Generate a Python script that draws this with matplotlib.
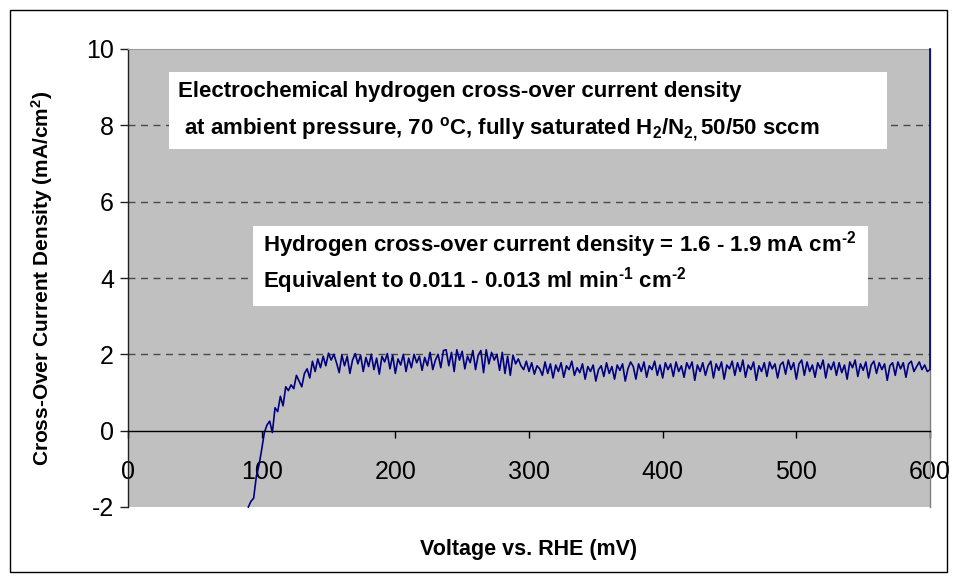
import numpy as np
import matplotlib
matplotlib.use("Agg")
import matplotlib.pyplot as plt
from matplotlib.patches import Rectangle

plt.rcParams['font.family'] = ['Liberation Sans', 'DejaVu Sans']
plt.rcParams['mathtext.fontset'] = 'custom'
plt.rcParams['mathtext.rm'] = 'Liberation Sans:bold'
plt.rcParams['mathtext.bf'] = 'Liberation Sans:bold'
plt.rcParams['mathtext.it'] = 'Liberation Sans:bold'
plt.rcParams['mathtext.default'] = 'bf'

# ---------------- data ----------------
sweep_start_mv = 90
sweep_step_mv = 2
current_density = [
    # 90 - 150 mV
    -2.0, -1.85, -1.77, -1.2, -0.9, -0.5, -0.05, 0.15, 0.25, -0.05,
    0.6, 0.5, 0.9, 0.65, 1.15, 1.05, 1.2, 1.1, 1.45, 1.3,
    1.15, 1.5, 1.62, 1.38, 1.82, 1.55, 1.88, 1.65, 1.95, 1.7,
    2.03,
    # 152 - 280 mV
    1.85, 2.0, 1.78, 1.52, 1.98, 1.7, 1.95, 1.5, 1.85, 2.02,
    1.75, 1.98, 1.55, 1.92, 1.68, 2.0, 1.6, 1.9, 1.48, 1.95,
    1.8, 2.02, 1.62, 1.98, 1.5, 1.88, 1.72, 2.0, 1.55, 1.9,
    1.65, 2.0, 1.78, 1.95, 1.58, 1.92, 1.7, 2.05, 1.6, 1.85,
    2.0, 1.65, 2.1, 2.12, 1.7, 2.05, 1.55, 2.12, 1.85, 2.08,
    1.62, 1.95, 1.78, 2.1, 1.6, 1.98, 2.1, 1.52, 2.12, 1.75,
    2.05, 1.85, 2.0, 1.58, 2.05,
    # 282 - 300 mV
    1.5, 1.95, 1.45, 1.98, 1.75, 1.88, 1.7, 1.6, 1.82, 1.55,
    # 302 - 598 mV
    1.78, 1.48, 1.7, 1.62, 1.45, 1.8, 1.5, 1.75, 1.38, 1.72,
    1.55, 1.78, 1.4, 1.7, 1.6, 1.82, 1.45, 1.65, 1.52, 1.75,
    1.35, 1.68, 1.55, 1.72, 1.3, 1.6, 1.7, 1.42, 1.78, 1.5,
    1.68, 1.35, 1.72, 1.58, 1.75, 1.3, 1.62, 1.8, 1.68, 1.35,
    1.75, 1.55, 1.8, 1.4, 1.7, 1.6, 1.82, 1.45, 1.72, 1.38,
    1.78, 1.6, 1.75, 1.42, 1.8, 1.55, 1.7, 1.4, 1.78, 1.62,
    1.8, 1.32, 1.72, 1.55, 1.78, 1.45, 1.7, 1.82, 1.38, 1.75,
    1.58, 1.8, 1.35, 1.72, 1.62, 1.82, 1.45, 1.78, 1.55, 1.85,
    1.4, 1.72, 1.6, 1.8, 1.32, 1.7, 1.55, 1.78, 1.42, 1.8,
    1.62, 1.75, 1.38, 1.72, 1.8, 1.48, 1.85, 1.6, 1.78, 1.35,
    1.75, 1.85, 1.45, 1.8, 1.55, 1.72, 1.4, 1.78, 1.62, 1.85,
    1.38, 1.75, 1.6, 1.8, 1.45, 1.78, 1.52, 1.72, 1.35, 1.8,
    1.65, 1.85, 1.42, 1.75, 1.58, 1.8, 1.38, 1.72, 1.82, 1.5,
    1.78, 1.6, 1.75, 1.32, 1.7, 1.78, 1.45, 1.8, 1.62, 1.78,
    1.4, 1.75, 1.82, 1.55, 1.68, 1.8, 1.6, 1.72, 1.55,
]
final_voltage = [600, 600]
final_current = [1.6, 10.0]

voltage = list(sweep_start_mv + sweep_step_mv * np.arange(len(current_density))) + final_voltage
current = current_density + final_current

x_ticks = [0, 100, 200, 300, 400, 500, 600]
y_ticks = [-2, 0, 2, 4, 6, 8, 10]
grid_levels = [2, 4, 6, 8]

# ---------------- figure ----------------
W, H = 958, 582
fig = plt.figure(figsize=(W / 100, H / 100), dpi=100)
fig.patch.set_facecolor('white')

def fx(x):
    return x / W

def fy(y):
    return 1 - y / H

L, R, T, B = 128, 930, 49, 507
ax = fig.add_axes([fx(L), fy(B), fx(R) - fx(L), fy(T) - fy(B)])
ax.set_facecolor('#C0C0C0')
ax.set_xlim(0, 600)
ax.set_ylim(-2, 10)

for g in grid_levels:
    ax.axhline(g, color='#484848', lw=1.0, ls=(0, (5, 4)), zorder=1)

ax.plot(voltage, current, color='#000080', lw=1.2, zorder=3, clip_on=False)

ax.spines['bottom'].set_position(('data', 0))
ax.spines['bottom'].set_color('black')
ax.spines['bottom'].set_linewidth(1.0)
ax.spines['left'].set_color('#202020')
ax.spines['left'].set_linewidth(1.0)
ax.spines['top'].set_color('#9a9a9a')
ax.spines['right'].set_color('#808080')
ax.spines['top'].set_linewidth(0.8)
ax.spines['right'].set_linewidth(1.0)
ax.spines['right'].set_zorder(2)

ax.set_xticks(x_ticks)
ax.set_yticks(y_ticks)
ax.set_xticklabels([str(v) for v in x_ticks])
ax.set_yticklabels([str(v) for v in y_ticks])
ax.tick_params(axis='x', direction='out', length=5, width=1, color='black',
               labelsize=18, pad=16)
ax.tick_params(axis='y', direction='out', length=6, width=1, color='#202020',
               labelsize=18, pad=4)

# axis labels
fig.text(fx(529), fy(549), 'Voltage vs. RHE (mV)', ha='center', va='center',
         fontsize=15.5, fontweight='bold')
fig.text(fx(42), fy(278), 'Cross-Over Current Density (mA/cm$^{2}$)', ha='center',
         va='center', rotation=90, fontsize=15, fontweight='bold')

# annotation boxes
box1 = Rectangle((fx(169), fy(149)), fx(887) - fx(169), fy(72) - fy(149),
                 transform=fig.transFigure, facecolor='white', edgecolor='none', zorder=5)
fig.add_artist(box1)
box2 = Rectangle((fx(253), fy(306)), fx(868) - fx(253), fy(226) - fy(306),
                 transform=fig.transFigure, facecolor='white', edgecolor='none', zorder=5)
fig.add_artist(box2)

fs = 16
fig.text(fx(178), fy(97), 'Electrochemical hydrogen cross-over current density',
         ha='left', va='baseline', fontsize=fs, fontweight='bold', zorder=6)
fig.text(fx(178), fy(134), r' at ambient pressure, 70 $^{\mathbf{o}}$C, fully saturated H$_{2}$/N$_{2,}$50/50 sccm',
         ha='left', va='baseline', fontsize=fs, fontweight='bold', zorder=6)
fig.text(fx(263), fy(252), r'Hydrogen cross-over current density = 1.6 - 1.9 mA cm$^{\text{-2}}$',
         ha='left', va='baseline', fontsize=fs, fontweight='bold', zorder=6)
fig.text(fx(263), fy(287), r'Equivalent to 0.011 - 0.013 ml min$^{\text{-1}}$ cm$^{\text{-2}}$',
         ha='left', va='baseline', fontsize=fs, fontweight='bold', zorder=6)

# outer frame
frame = Rectangle((fx(10), fy(572)), fx(947) - fx(10), fy(10) - fy(572),
                  transform=fig.transFigure, facecolor='none', edgecolor='black',
                  lw=1.0, zorder=10)
fig.add_artist(frame)

fig.savefig('out.png', dpi=100)
